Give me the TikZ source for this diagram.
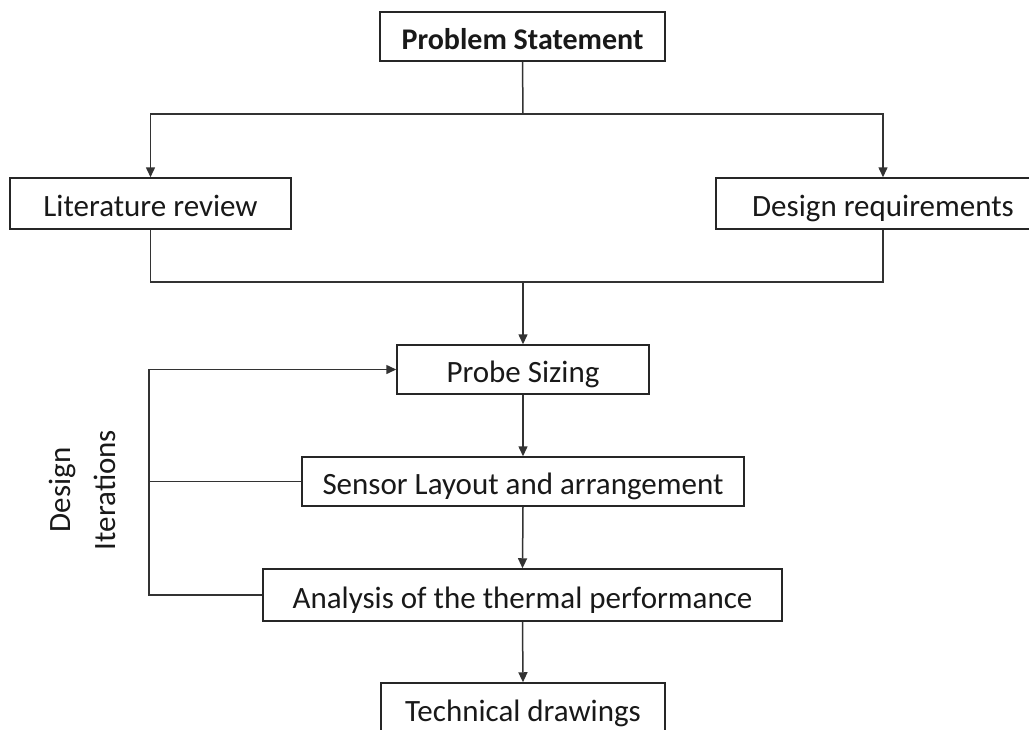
\documentclass[tikz,border=0pt]{standalone}
\usepackage{fontspec}
\setmainfont{Carlito}
\usetikzlibrary{arrows.meta}
\tikzset{
  box/.style={draw=black!85, line width=1.5pt, inner sep=0pt, text height=26pt, text depth=0pt,
    font=\fontsize{31}{36}\selectfont, text=black!90},
  conn/.style={draw=black!80, line width=1.5pt},
  tri/.tip={Triangle[width=9pt,length=10pt]}
}
\begin{document}
\begin{tikzpicture}[x=1pt,y=-1pt]
\useasboundingbox (0,0) rectangle (1029,729);
\fill[white] (0,0) rectangle (1029,729);

\node[box, minimum width=285pt, minimum height=49pt, font=\fontsize{30}{34}\selectfont\bfseries] (ps) at (522.5,36.5) {Problem Statement};
\node[box, minimum width=281pt, minimum height=51pt] (lr) at (150.5,203.5) {Literature review};
\node[box, minimum width=334pt, minimum height=51pt] (dr) at (883,203.5) {Design requirements};
\node[box, minimum width=252pt, minimum height=49pt] (pz) at (523,369.5) {Probe Sizing};
\node[box, minimum width=442pt, minimum height=49pt] (sl) at (523,481.5) {Sensor Layout and arrangement};
\node[box, minimum width=519pt, minimum height=52pt] (an) at (522.5,595) {Analysis of the thermal performance};
\node[box, minimum width=284pt, minimum height=50pt] (td) at (523,708) {Technical drawings};

\node[rotate=90, align=center, inner sep=0pt, font=\fontsize{31}{45}\selectfont, text=black!90] (di) at (82,490) {Design\\Iterations};

\coordinate (c1) at (523,114);
\coordinate (c2) at (523,282);
\coordinate (fb) at (149,369.5);

\draw[conn] (ps.south) -- (c1);
\draw[conn, tri-tri] (lr.north) |- (c1) -| (dr.north);
\draw[conn] (lr.south) |- (c2) -| (dr.south);
\draw[conn, -tri] (c2) -- (pz.north);
\draw[conn, -tri] (pz.south) -- (sl.north);
\draw[conn, -tri] (sl.south) -- (an.north);
\draw[conn, -tri] (an.south) -- (td.north);
\draw[conn, -tri] (an.west) -| (fb) -- (pz.west);
\draw[conn] (sl.west) -- (sl.west -| fb);
\end{tikzpicture}
\end{document}
